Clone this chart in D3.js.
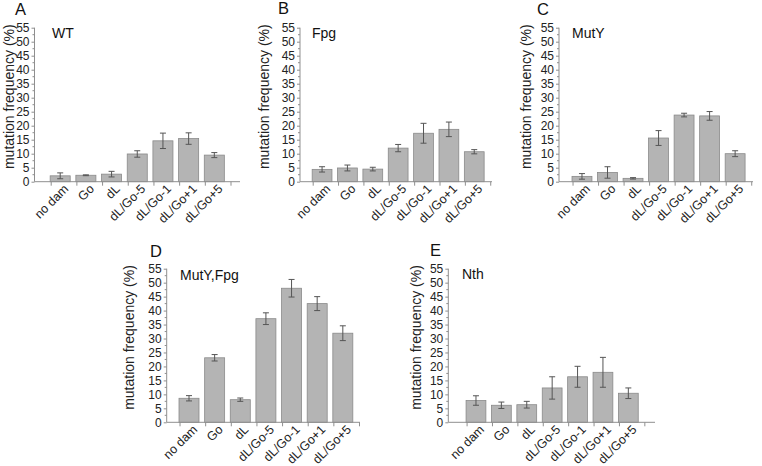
<!DOCTYPE html>
<html><head><meta charset="utf-8">
<script src="https://cdn.jsdelivr.net/npm/d3@7/dist/d3.min.js"></script>
<style>
html,body{margin:0;padding:0;background:#fff;}
svg{display:block;font-family:"Liberation Sans",Arial,sans-serif;}
</style></head>
<body>
<svg id="chart" width="762" height="466"></svg>
<script>
const categories = ["no dam","Go","dL","dL/Go-5","dL/Go-1","dL/Go+1","dL/Go+5"];
const panelLetters = ["A","B","C","D","E"];
const strains = ["WT","Fpg","MutY","MutY,Fpg","Nth"];
const yTicks = [0,5,10,15,20,25,30,35,40,45,50,55];

const meanWT = [2.1, 2.3, 2.7, 9.9, 14.6, 15.4, 9.5];
const errWT  = [1.05, 0.15, 1.0, 1.15, 2.75, 2.05, 0.9];
const meanFpg = [4.4, 4.9, 4.5, 12.0, 17.3, 18.7, 10.7];
const errFpg  = [0.95, 1.05, 0.65, 1.3, 3.55, 2.6, 0.75];
const meanMutY = [1.9, 3.3, 1.2, 15.6, 23.8, 23.5, 10.0];
const errMutY  = [1.0, 2.05, 0.25, 2.65, 0.65, 1.55, 1.05];
const meanMutYFpg = [8.6, 23.1, 8.1, 37.1, 48.0, 42.5, 31.9];
const errMutYFpg  = [0.95, 1.15, 0.6, 2.1, 3.15, 2.5, 2.65];
const meanNth = [7.8, 6.1, 6.3, 12.3, 16.3, 17.9, 10.4];
const errNth  = [1.7, 1.15, 1.2, 4.0, 3.75, 5.35, 1.9];

const seriesMeans = [meanWT, meanFpg, meanMutY, meanMutYFpg, meanNth];
const seriesErrs = [errWT, errFpg, errMutY, errMutYFpg, errNth];

// layout (pixels)
const layout = [
  {x0:34.5, x1:240, dom:[0,8],      yb:181.7, yt:27.7,  titleX:13.5, letter:[15,15],   strain:[52,38]},
  {x0:300,  x1:492, dom:[0.13,7.7], yb:181.7, yt:27.7,  titleX:268.5,letter:[278,14],  strain:[312,37.5]},
  {x0:559,  x1:753, dom:[0.1,7.7],  yb:181.7, yt:27.7,  titleX:530.5,letter:[537,15],  strain:[572,37.5]},
  {x0:166.7,x1:360, dom:[0.13,7.67],yb:422.3, yt:268.7, titleX:134,  letter:[150,257], strain:[180,280]},
  {x0:448.3,x1:655, dom:[-0.09,8.05],yb:422.3,yt:268.7, titleX:421,  letter:[430,256], strain:[462,278.5]}
];

const svg = d3.select("#chart");
const axisCol = "#8f8f8f";

layout.forEach((L, p) => {
  const g = svg.append("g");
  const x = d3.scaleLinear().domain(L.dom).range([L.x0, L.x1]);
  const y = d3.scaleLinear().domain([0,55]).range([L.yb, L.yt]);
  const step = x(1) - x(0);
  const bw = step * 0.78;
  const means = seriesMeans[p], errs = seriesErrs[p];

  // bars
  g.selectAll("rect.bar").data(means).join("rect")
    .attr("x", (d,i) => x(i+1) - bw/2)
    .attr("y", d => y(d))
    .attr("width", bw)
    .attr("height", d => y(0) - y(d))
    .attr("fill", "#b4b4b4")
    .attr("stroke", "#8a8a8a")
    .attr("stroke-width", 0.8);

  // error bars
  const eg = g.selectAll("g.err").data(means).join("g");
  eg.append("line")
    .attr("x1", (d,i) => x(i+1)).attr("x2", (d,i) => x(i+1))
    .attr("y1", (d,i) => y(d + errs[i])).attr("y2", (d,i) => y(d - errs[i]))
    .attr("stroke", "#555").attr("stroke-width", 1);
  eg.append("line")
    .attr("x1", (d,i) => x(i+1) - 3).attr("x2", (d,i) => x(i+1) + 3)
    .attr("y1", (d,i) => y(d + errs[i])).attr("y2", (d,i) => y(d + errs[i]))
    .attr("stroke", "#555").attr("stroke-width", 1);
  eg.append("line")
    .attr("x1", (d,i) => x(i+1) - 3).attr("x2", (d,i) => x(i+1) + 3)
    .attr("y1", (d,i) => y(d - errs[i])).attr("y2", (d,i) => y(d - errs[i]))
    .attr("stroke", "#555").attr("stroke-width", 1);

  // y axis
  const yAxis = d3.axisLeft(y).tickValues(yTicks).tickSize(3).tickPadding(2).tickFormat(d3.format("d"));
  const ya = g.append("g").attr("transform", `translate(${L.x0},0)`).call(yAxis);
  ya.select(".domain").attr("stroke", axisCol).attr("d", `M0,${L.yb}V${L.yt}`);
  ya.selectAll(".tick line").attr("stroke", axisCol);
  ya.selectAll(".tick text").attr("fill", "#222").style("font-size", "12px");
  // minor y ticks
  const minor = d3.range(2.5, 55, 5);
  ya.selectAll("line.minor").data(minor).join("line")
    .attr("x1", 0).attr("x2", -2).attr("y1", d => y(d)).attr("y2", d => y(d))
    .attr("stroke", axisCol);

  // x axis
  g.append("line").attr("x1", L.x0).attr("x2", L.x1).attr("y1", L.yb).attr("y2", L.yb)
    .attr("stroke", axisCol);
  const xt = d3.range(1, 9).map(k => k - 0.35);
  g.selectAll("line.xt").data(xt).join("line")
    .attr("x1", d => x(d)).attr("x2", d => x(d))
    .attr("y1", L.yb).attr("y2", L.yb + 4)
    .attr("stroke", axisCol);

  // category labels
  g.selectAll("text.cat").data(categories).join("text")
    .attr("transform", (d,i) => `translate(${x(i+1) + 9},${L.yb + 8}) rotate(-45)`)
    .attr("text-anchor", "end")
    .attr("fill", "#222")
    .style("font-size", "12.5px")
    .text(d => d);

  // y title
  g.append("text")
    .attr("transform", `translate(${L.titleX},${(L.yb + L.yt)/2 - 8}) rotate(-90)`)
    .attr("text-anchor", "middle")
    .attr("fill", "#222")
    .style("font-size", "14px")
    .text("mutation frequency (%)");

  // panel letter
  g.append("text").attr("x", L.letter[0]).attr("y", L.letter[1])
    .attr("fill", "#111").style("font-size", "16.5px").text(panelLetters[p]);
  // strain label
  g.append("text").attr("x", L.strain[0]).attr("y", L.strain[1])
    .attr("fill", "#111").style("font-size", "14px").text(strains[p]);
});
</script>
</body></html>
